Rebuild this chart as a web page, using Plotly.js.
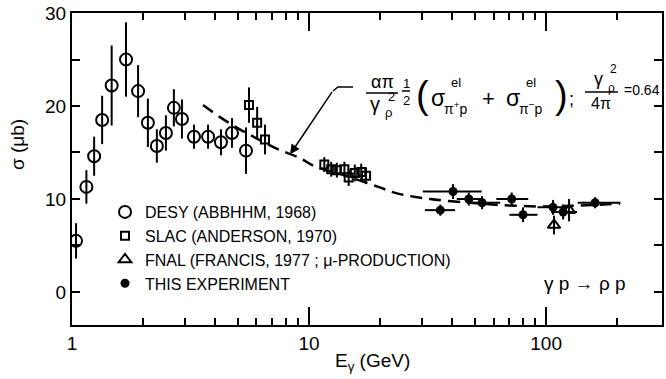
<!DOCTYPE html>
<html>
<head>
<meta charset="utf-8">
<script src="https://cdn.plot.ly/plotly-3.0.1.min.js"></script>
<style>html,body{margin:0;padding:0;background:#fff;}#chart{width:666px;height:379px;}</style>
</head>
<body>
<div id="chart"></div>
<script>
// ---- data ----
const desyE   = [1.04, 1.15, 1.24, 1.34, 1.47, 1.69, 1.90, 2.09, 2.28, 2.49, 2.69, 2.91, 3.27, 3.75, 4.25, 4.73, 5.42];
const desySig = [5.5, 11.3, 14.6, 18.5, 22.2, 25.0, 21.6, 18.2, 15.7, 17.1, 19.8, 18.6, 16.7, 16.7, 16.1, 17.1, 15.2];
const desyErr = [1.9, 1.8, 2.1, 2.6, 4.3, 4.0, 2.8, 2.6, 1.8, 1.9, 2.0, 2.1, 1.3, 1.3, 1.4, 1.6, 2.5];

const slacE   = [5.58, 6.04, 6.52, 11.6, 12.4, 13.1, 14.1, 14.7, 15.6, 16.6, 17.4];
const slacSig = [20.1, 18.2, 16.4, 13.7, 13.2, 13.1, 13.2, 12.3, 12.8, 12.9, 12.5];
const slacErr = [1.9, 1.7, 1.6, 0.8, 0.8, 0.8, 0.8, 0.9, 0.9, 0.9, 0.9];

const fnalE   = [108, 125];
const fnalSig = [7.2, 8.8];
const fnalErr = [1.0, 1.2];

const expE      = [35.8, 40.5, 47.2, 53.7, 71.6, 79.9, 107, 118, 161];
const expSig    = [8.8, 10.8, 10.0, 9.6, 10.0, 8.3, 9.1, 8.6, 9.6];
const expErr    = [0.6, 0.8, 0.7, 0.7, 0.7, 0.8, 0.8, 0.8, 0.6];
const expEplus  = [5.5, 13.0, 6.8, 10.3, 12.5, 12.1, 19, 17, 45];
const expEminus = [5.0, 10.3, 5.2, 6.1, 9.9, 9.9, 15, 13, 25];

const curveE   = [3.57, 4.21, 5.02, 5.92, 7.33, 9.16, 10.6, 13.5, 19.6, 23.5, 32.4, 47.7, 64, 94, 139, 205];
const curveSig = [20.1, 18.8, 17.6, 16.6, 15.4, 14.4, 13.5, 12.7, 11.3, 10.6, 10.0, 9.6, 9.35, 9.2, 9.3, 9.5];

const legendNames = ["DESY (ABBHHM, 1968)", "SLAC (ANDERSON, 1970)", "FNAL (FRANCIS, 1977 ; \u03bc-PRODUCTION)", "THIS EXPERIMENT"];
const xTickVals = [1, 10, 100];
const xTickText = ["1", "10", "100"];
const xMinorVals = [2,3,4,5,6,7,8,9,20,30,40,50,60,70,80,90,200];
const yTickVals = [0, 5, 10, 15, 20, 25, 30];
const yTickText = ["0", "", "10", "", "20", "", "30"];

// ---- layout helpers (pixel -> paper) ----
const L = 72, R = 662, T = 13, B = 325;
const px = x => (x - L) / (R - L);
const py = y => (B - y) / (B - T);
const FONT = "Liberation Sans, Arial, sans-serif";

function txt(x, y, text, size, extra) {
  return Object.assign({xref: "paper", yref: "paper", x: px(x), y: py(y), text: text, showarrow: false,
    xanchor: "center", yanchor: "middle", font: {family: FONT, size: size, color: "#000"}}, extra || {});
}
function hbar(x0, x1, y) {
  return {type: "line", xref: "paper", yref: "paper", x0: px(x0), x1: px(x1), y0: py(y), y1: py(y),
    line: {color: "#000", width: 1.5}};
}

const errStyle = {type: "data", thickness: 2, width: 0, color: "#000"};

const traces = [
  {x: desyE, y: desySig, name: legendNames[0], type: "scatter", mode: "markers",
   marker: {symbol: "circle-open", size: 12, color: "#000", line: {width: 2, color: "#000"}},
   error_y: Object.assign({array: desyErr}, errStyle)},
  {x: slacE, y: slacSig, name: legendNames[1], type: "scatter", mode: "markers",
   marker: {symbol: "square-open", size: 8, color: "#000", line: {width: 2, color: "#000"}},
   error_y: Object.assign({array: slacErr}, errStyle)},
  {x: fnalE, y: fnalSig, name: legendNames[2], type: "scatter", mode: "markers",
   marker: {symbol: "triangle-up-open", size: 11, color: "#000", line: {width: 2, color: "#000"}},
   error_y: Object.assign({array: fnalErr}, errStyle)},
  {x: expE, y: expSig, name: legendNames[3], type: "scatter", mode: "markers",
   marker: {symbol: "circle", size: 9, color: "#000"},
   error_y: Object.assign({array: expErr}, errStyle),
   error_x: Object.assign({symmetric: false, array: expEplus, arrayminus: expEminus}, errStyle)},
  {x: curveE, y: curveSig, type: "scatter", mode: "lines", showlegend: false,
   line: {color: "#000", width: 2.5, dash: "12px,7px", shape: "spline"}}
];

const annotations = [
  // axis titles
  txt(17, 145, "\u03c3 (\u03bcb)", 19, {textangle: -90}),
  txt(373, 362, "E<sub>\u03b3</sub> (GeV)", 19),
  // reaction
  txt(628, 283, "\u03b3 p \u2192 \u03c1 p", 19, {xanchor: "right"}),
  // formula
  txt(382, 82, "\u03b1\u03c0", 18),
  txt(375, 104, "\u03b3", 20),
  txt(391, 96, "2", 13),
  txt(388, 113, "\u03c1", 13),
  txt(406, 83, "1", 13),
  txt(406, 100, "2", 13),
  txt(423, 95, "(", 38),
  txt(438, 98, "\u03c3", 23),
  txt(456, 82, "el", 13),
  txt(455, 108, "\u03c0<sup>+</sup>p", 14),
  txt(488, 98, "+", 22),
  txt(513, 98, "\u03c3", 23),
  txt(531, 82, "el", 13),
  txt(530, 108, "\u03c0<sup>\u2212</sup>p", 14),
  txt(561, 95, ")", 38),
  txt(571, 99, ";", 18),
  txt(598, 79, "\u03b3", 18),
  txt(613, 69, "2", 12),
  txt(611, 88, "\u03c1", 12),
  txt(601, 104, "4\u03c0", 16),
  txt(642, 90, "=0.64", 14),
  // arrow pointing to the curve
  {x: Math.log10(8.32), y: 14.8, xref: "x", yref: "y", text: "", showarrow: true,
   arrowhead: 2, arrowsize: 1.3, arrowwidth: 1.5, arrowcolor: "#000", ax: 43, ay: -64}
];

const shapes = [
  hbar(366, 398, 93),
  hbar(402, 410, 91),
  hbar(585, 618, 92),
  {type: "path", xref: "paper", yref: "paper",
   path: "M " + px(333) + " " + py(91) + " L " + px(338) + " " + py(87) + " L " + px(353) + " " + py(87),
   line: {color: "#000", width: 1.5}}
];

const layout = {
  width: 666, height: 379,
  margin: {l: L, r: 666 - R, t: T, b: 379 - B},
  paper_bgcolor: "#fff", plot_bgcolor: "#fff",
  font: {family: FONT, color: "#000", size: 19},
  showlegend: true,
  legend: {x: px(105), y: py(195), xanchor: "left", yanchor: "top", bgcolor: "rgba(0,0,0,0)",
           font: {family: FONT, size: 16, color: "#000"}, tracegroupgap: 4, itemclick: false},
  xaxis: {type: "log", range: [0, 2.489], tickmode: "array", tickvals: xTickVals, ticktext: xTickText,
          ticks: "inside", ticklen: 18, tickwidth: 2, tickcolor: "#000", mirror: "ticks",
          showline: true, linewidth: 2, linecolor: "#000", showgrid: false, zeroline: false,
          tickfont: {family: FONT, size: 19},
          minor: {tickmode: "array", tickvals: xMinorVals, ticks: "inside", ticklen: 7, tickwidth: 2, tickcolor: "#000", showgrid: false}},
  yaxis: {range: [-3.55, 30], tickmode: "array", tickvals: yTickVals, ticktext: yTickText,
          ticks: "inside", ticklen: 8, tickwidth: 2, tickcolor: "#000", mirror: "ticks",
          showline: true, linewidth: 2, linecolor: "#000", showgrid: false, zeroline: false,
          tickfont: {family: FONT, size: 19}},
  annotations: annotations,
  shapes: shapes
};

Plotly.newPlot("chart", traces, layout, {staticPlot: true, displayModeBar: false});
</script>
</body>
</html>
